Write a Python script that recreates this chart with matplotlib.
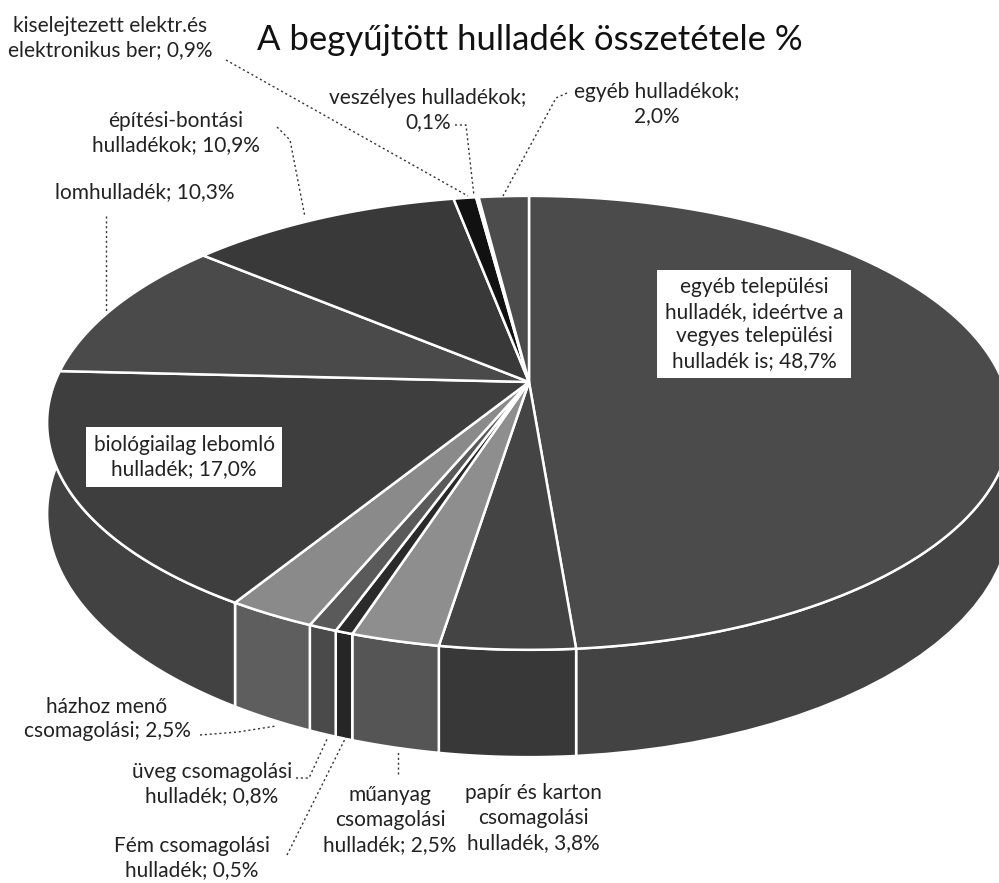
import numpy as np
import matplotlib
matplotlib.use("Agg")
import matplotlib.pyplot as plt
from matplotlib.patches import Polygon

plt.rcParams['font.family'] = ['Lato', 'DejaVu Sans']

title = "A begyűjtött hulladék összetétele %"

# slices, clockwise from 12 o'clock
labels = ["egyéb települési\nhulladék, ideértve a\nvegyes települési\nhulladék is; 48,7%",
          "papír és karton\ncsomagolási\nhulladék, 3,8%",
          "műanyag\ncsomagolási\nhulladék; 2,5%",
          "Fém csomagolási\nhulladék; 0,5%",
          "üveg csomagolási\nhulladék; 0,8%",
          "házhoz menő\ncsomagolási; 2,5%",
          "biológiailag lebomló\nhulladék; 17,0%",
          "lomhulladék; 10,3%",
          "építési-bontási\nhulladékok; 10,9%",
          "kiselejtezett elektr.és\nelektronikus ber; 0,9%",
          "veszélyes hulladékok;\n0,1%",
          "egyéb hulladékok;\n2,0%"]
values = [48.7, 3.8, 2.5, 0.5, 0.8, 2.5, 17.0, 10.3, 10.9, 0.9, 0.1, 2.0]
top_colors = ["#4b4b4b", "#444444", "#8e8e8e", "#2a2a2a", "#5a5a5a", "#8a8a8a",
              "#3e3e3e", "#4a4a4a", "#393939", "#111111", "#333333", "#4c4c4c"]
side_colors = ["#434343", "#383838", "#555555", "#262626", "#4a4a4a", "#5e5e5e",
               "#424242", "#444444", "#333333", "#111111", "#2e2e2e", "#444444"]

# label text position (pixel coords), boxed?, leader line
label_pos = [(754, 324), (533, 818), (390, 820), (192, 858), (212, 784), (107, 719),
             (184, 457), (145, 192), (176, 133), (110, 38), (428, 110), (657, 104)]
boxed = [True, False, False, False, False, False, True, False, False, False, False, False]
leaders = {
    2: [(398, 774), (398, 752)],
    3: [(287, 855), (346, 737)],
    4: [(296, 778), (309, 778), (328, 737)],
    5: [(200, 735), (238, 732), (276, 726)],
    7: [(106, 216), (106, 312)],
    8: [(277, 127), (290, 140), (305, 217)],
    9: [(226, 60), (468, 196)],
    10: [(455, 125), (466, 125), (474, 196)],
    11: [(567, 93), (556, 98), (503, 196)],
}

# projection of the tilted disc
x0, y0 = 529, 382
A, B, k = 474, 219.6, 0.18
H = 88


def proj(theta, depth=0.0):
    t = np.radians(theta)
    u, v = np.sin(t), np.cos(t)
    w = 1 + k * v
    return x0 + A * u / w, y0 - B * v / w + depth / w


fig = plt.figure(figsize=(9.99, 8.83), dpi=100)
ax = fig.add_axes([0, 0, 1, 1])
ax.set_xlim(0, 999)
ax.set_ylim(883, 0)
ax.axis('off')

bounds = np.concatenate([[0], np.cumsum(values)]) * 3.6

# side walls
for i in range(len(values)):
    th = np.linspace(bounds[i], bounds[i + 1], 60)
    xt, yt = proj(th)
    xb, yb = proj(th, H)
    pts = np.column_stack([np.concatenate([xt, xb[::-1]]), np.concatenate([yt, yb[::-1]])])
    ax.add_patch(Polygon(pts, closed=True, facecolor=side_colors[i],
                         edgecolor="white", lw=1.8, joinstyle='miter'))

# top face
for i in range(len(values)):
    th = np.linspace(bounds[i], bounds[i + 1], 120)
    xt, yt = proj(th)
    pts = np.column_stack([np.concatenate([[x0], xt]), np.concatenate([[y0], yt])])
    ax.add_patch(Polygon(pts, closed=True, facecolor=top_colors[i],
                         edgecolor="white", lw=1.8, joinstyle='miter'))

ax.text(530, 40, title, ha='center', va='center', fontsize=25, color="#111111")

for i, lab in enumerate(labels):
    x, y = label_pos[i]
    kw = {}
    if boxed[i]:
        kw['bbox'] = dict(boxstyle='square,pad=0.35', facecolor='white', edgecolor='none')
    ax.text(x, y, lab, ha='center', va='center', fontsize=15, color="#222222",
            linespacing=1.3, **kw)

for i, pts in leaders.items():
    xs, ys = zip(*pts)
    ax.plot(xs, ys, ls=(0, (1.5, 2)), color="#333333", lw=1)

fig.savefig("out.png", dpi=100)
